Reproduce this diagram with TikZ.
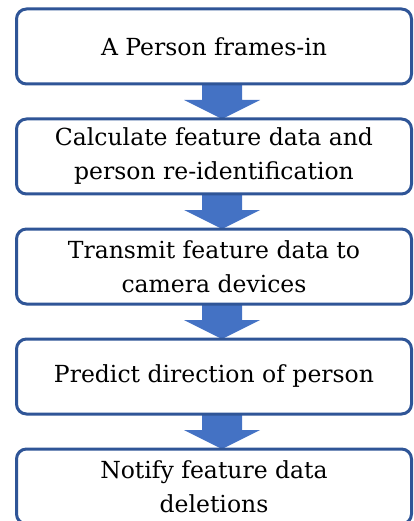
\documentclass[tikz,border=0pt]{standalone}
\usepackage{fontspec}
\setmainfont{DejaVu Serif}
\usetikzlibrary{positioning,backgrounds}
\definecolor{boxline}{HTML}{2F5597}
\definecolor{arrowfill}{HTML}{4472C4}
\tikzset{
stepbox/.style={draw=boxline, line width=3pt, rounded corners=10pt, fill=white,
  minimum width=395pt, minimum height=75pt, inner sep=0pt, outer sep=0pt,
  align=center, font=\fontsize{23.5}{34}\selectfont},
blockarrow/.style={fill=arrowfill, draw=none}
}
\begin{document}
\begin{tikzpicture}[x=1pt,y=-1pt,node distance=35pt]
\useasboundingbox (0,0) rectangle (414,521);
\clip (0,0) rectangle (414,521);
% steps
\node [stepbox] (frame) at (214,46.5) {A Person frames-in};
\node [stepbox, below=of frame] (calc) {Calculate feature data and\\person re-identification};
\node [stepbox, below=of calc] (send) {Transmit feature data to\\camera devices};
\node [stepbox, below=of send] (predict) {Predict direction of person};
\node [stepbox, below=of predict] (notify) {Notify feature data\\deletions};
% block arrows between the steps
\def\blk#1#2{
\fill [blockarrow] ([xshift=-12pt]#1.south) -- ([xshift=28pt]#1.south)
  -- ([xshift=28pt,yshift=19pt]#2.north) -- ([xshift=46pt,yshift=19pt]#2.north)
  -- ([xshift=8pt]#2.north)
  -- ([xshift=-30pt,yshift=19pt]#2.north) -- ([xshift=-12pt,yshift=19pt]#2.north) -- cycle;
}
\begin{scope}[on background layer]
\blk{frame}{calc}
\blk{calc}{send}
\blk{send}{predict}
\blk{predict}{notify}
\end{scope}
\end{tikzpicture}
\end{document}
